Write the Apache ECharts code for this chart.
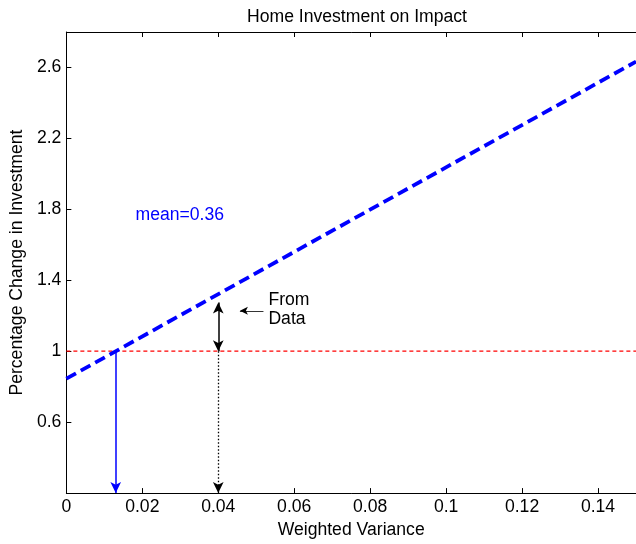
<!DOCTYPE html>
<html>
<head>
<meta charset="utf-8">
<script src="https://cdn.jsdelivr.net/npm/echarts@6/dist/echarts.min.js"></script>
<style>html,body{margin:0;padding:0;background:#fff}#c{width:636px;height:544px}</style>
</head>
<body>
<div id="c"></div>
<script>
// ---- data ----
var titleText = "Home Investment on Impact";
var xName = "Weighted Variance";
var yName = "Percentage Change in Investment";
var fitLineX = [0, 0.15];
var fitLineY = [0.845, 2.633];
var refLevel = 1;
var meanX = 0.013;        // where the fit crosses 1
var dataX = 0.04;         // data point
var dataTop = 1.275;      // top of double arrow
var yBottom = 0.2;
var meanLabel = "mean=0.36";
var meanLabelPos = [0.0182, 1.770];
var fromDataLabel = "From\nData";
var fromDataPos = [0.0532, 1.2335];
var pointerFrom = [0.0519, 1.228];
var pointerTo = [0.0457, 1.228];

var font = "'Liberation Sans', Arial, Helvetica, sans-serif";
var fs = 17.6;
var chart = echarts.init(document.getElementById('c'));

var axisCommon = {
  type: 'value', min: 0, max: 0.15, interval: 0.02,
  axisLine: {show: true, onZero: false, lineStyle: {color: '#000', width: 1}},
  axisTick: {show: true, inside: true, length: 5, lineStyle: {color: '#000'}},
  splitLine: {show: false}
};

chart.setOption({
  animation: false,
  backgroundColor: '#fff',
  title: {
    text: titleText, left: 352, top: 3, textAlign: 'center',
    textStyle: {fontFamily: font, fontSize: fs, fontWeight: 'normal', color: '#000'}
  },
  grid: {left: 63, right: -5, top: 32, bottom: 46, containLabel: false},
  xAxis: [
    Object.assign({}, axisCommon, {
      position: 'bottom',
      name: xName, nameLocation: 'middle', nameGap: 21.5,
      nameTextStyle: {fontFamily: font, fontSize: fs, color: '#000'},
      axisLabel: {show: true, showMaxLabel: false, margin: 5, fontFamily: font, fontSize: fs, color: '#000'}
    }),
    Object.assign({}, axisCommon, {
      position: 'top', axisLabel: {show: false}
    })
  ],
  yAxis: [{
    type: 'value', min: yBottom, max: 2.8, interval: 0.4,
    name: yName, nameLocation: 'middle', nameGap: 34,
    nameTextStyle: {fontFamily: font, fontSize: fs, color: '#000'},
    axisLine: {show: true, onZero: false, lineStyle: {color: '#000', width: 1}},
    axisTick: {show: true, inside: true, length: 5, lineStyle: {color: '#000'}},
    axisLabel: {show: true, showMinLabel: false, showMaxLabel: false, margin: 5, fontFamily: font, fontSize: fs, color: '#000'},
    splitLine: {show: false}
  }],
  series: [
    {
      type: 'line', name: 'ref', xAxisIndex: 0,
      data: [[fitLineX[0], refLevel], [fitLineX[1], refLevel]],
      symbol: 'none', silent: true,
      lineStyle: {color: '#ff0000', width: 1.3, type: [4, 3]}
    },
    {
      type: 'line', name: 'fit', xAxisIndex: 0,
      data: [[fitLineX[0], fitLineY[0]], [fitLineX[1], fitLineY[1]]],
      symbol: 'none', silent: true,
      lineStyle: {color: '#0000ff', width: 3.8, type: [11, 5.5]},
      markLine: {
        silent: true, animation: false,
        label: {show: false},
        data: [
          [{coord: [meanX, refLevel], symbol: 'none', lineStyle: {color: '#0000ff', width: 1.5, type: 'solid'}},
           {coord: [meanX, yBottom], symbol: 'arrow', symbolSize: [8, 11]}],
          [{coord: [dataX, refLevel], symbol: 'arrow', symbolSize: [8, 11], lineStyle: {color: '#000', width: 1.5, type: 'solid'}},
           {coord: [dataX, dataTop], symbol: 'arrow', symbolSize: [8, 11]}],
          [{coord: [dataX, refLevel], symbol: 'none', lineStyle: {color: '#000', width: 1.3, type: [1.5, 2]}},
           {coord: [dataX, yBottom], symbol: 'arrow', symbolSize: [8, 11]}],
          [{coord: pointerFrom, symbol: 'none', lineStyle: {color: '#000', width: 0.8, type: 'solid'}},
           {coord: pointerTo, symbol: 'arrow', symbolSize: [6, 8]}]
        ]
      }
    },
    {
      type: 'scatter', silent: true, symbolSize: 0,
      itemStyle: {opacity: 1},
      data: [meanLabelPos],
      label: {show: true, position: 'right', distance: 0, formatter: meanLabel,
        fontFamily: font, fontSize: fs, color: '#0000ff'}
    },
    {
      type: 'scatter', silent: true, symbolSize: 0,
      itemStyle: {opacity: 1},
      data: [fromDataPos],
      label: {show: true, position: 'right', distance: 0, formatter: fromDataLabel,
        fontFamily: font, fontSize: fs, color: '#000', lineHeight: 18.5, align: 'left'}
    }
  ]
});
</script>
</body>
</html>
